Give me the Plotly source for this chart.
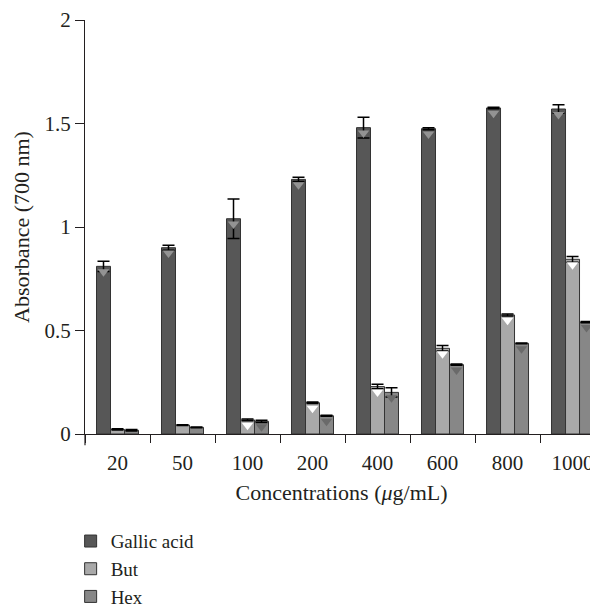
import numpy as np
import plotly.graph_objects as go

categories = ["20", "50", "100", "200", "400", "600", "800", "1000"]
gallic = [0.81, 0.90, 1.04, 1.23, 1.48, 1.475, 1.575, 1.57]
gallic_err = [0.025, 0.012, 0.095, 0.01, 0.05, 0.005, 0.004, 0.02]
but = [0.022, 0.043, 0.068, 0.151, 0.229, 0.414, 0.575, 0.844]
but_err = [0.003, 0.002, 0.004, 0.004, 0.011, 0.013, 0.005, 0.014]
hexv = [0.018, 0.032, 0.061, 0.088, 0.201, 0.335, 0.438, 0.54]
hex_err = [0.004, 0.002, 0.005, 0.002, 0.022, 0.003, 0.002, 0.003]

series = [
    ("Gallic acid", gallic, gallic_err, "#575757", "#939393"),
    ("But", but, but_err, "#a9a9a9", "#ffffff"),
    ("Hex", hexv, hex_err, "#878787", "#6a6a6a"),
]

idx = np.arange(len(categories))
bw = 14 / 65
fig = go.Figure()
for k, (name, vals, err, col, tri) in enumerate(series):
    xs = idx + (k - 1) * bw
    fig.add_trace(go.Bar(
        x=xs, y=vals, width=bw, name=name,
        marker=dict(color=col, line=dict(color="#333333", width=1)),
        error_y=dict(type="data", array=err, visible=True, color="black",
                     thickness=1.5, width=6),
    ))
for k, (name, vals, err, col, tri) in enumerate(series):
    xs = idx + (k - 1) * bw
    v = np.array(vals)
    m = v > 0.05
    fig.add_trace(go.Scatter(
        x=xs[m], y=v[m] - 0.026, mode="markers", showlegend=False, hoverinfo="skip",
        marker=dict(symbol="triangle-down", size=10, color=tri, line=dict(width=0)),
    ))

font = "Liberation Serif, Times New Roman, serif"
tc = "#231f20"
fig.add_shape(type="line", xref="paper", yref="paper", x0=0, x1=0, y0=0, y1=-0.027,
              line=dict(color=tc, width=1.2))
fig.update_layout(
    width=590, height=599,
    margin=dict(l=77, r=0, t=12, b=173, autoexpand=False),
    plot_bgcolor="white", paper_bgcolor="white",
    barmode="overlay",
    font=dict(family=font, size=21, color=tc),
    showlegend=True,
    legend=dict(x=-0.028, y=-0.213, xanchor="left", yanchor="top",
                font=dict(family=font, size=19, color=tc),
                itemwidth=30, bgcolor="rgba(0,0,0,0)"),
    xaxis=dict(
        range=[-0.5, 7.392], tickmode="array", tickvals=idx, ticktext=categories,
        ticks="outside", ticklen=10, tickcolor="rgba(0,0,0,0)",
        showline=True, linecolor=tc, linewidth=1.2,
        showgrid=False, zeroline=False, automargin=False,
        minor=dict(tick0=0.5, dtick=1, ticks="outside", ticklen=8,
                   tickcolor=tc, tickwidth=1.2, showgrid=False),
        title=dict(text="Concentrations (<i>μ</i>g/mL)", standoff=10,
                   font=dict(family=font, size=22)),
        tickfont=dict(family=font, size=21),
    ),
    yaxis=dict(
        range=[0, 2], tickvals=[0, 0.5, 1, 1.5, 2],
        ticktext=["0", "0.5", "1", "1.5", "2"],
        ticks="outside", ticklen=9, tickcolor=tc, tickwidth=1.2,
        showline=True, linecolor=tc, linewidth=1.2,
        showgrid=False, zeroline=False, automargin=False,
        title=dict(text="Absorbance (700 nm)", standoff=8,
                   font=dict(family=font, size=22)),
        tickfont=dict(family=font, size=21),
    ),
)
fig.write_html("out.html")
